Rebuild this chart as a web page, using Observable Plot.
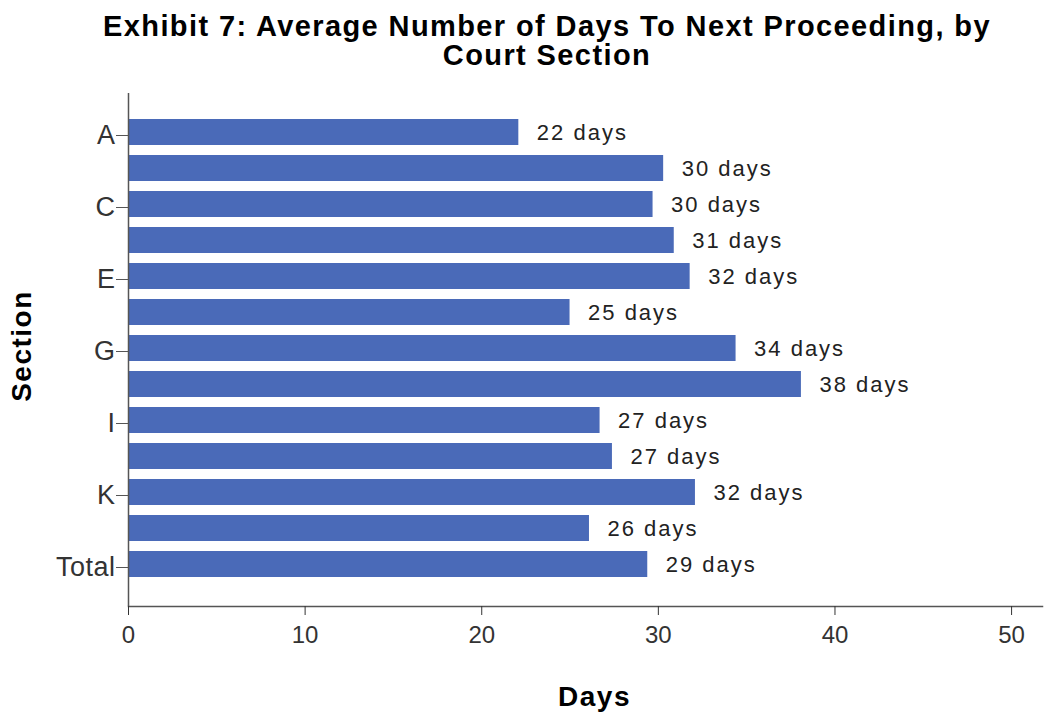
<!DOCTYPE html>
<html>
<head>
<meta charset="utf-8">
<script src="https://cdn.jsdelivr.net/npm/d3@7"></script>
<script src="https://cdn.jsdelivr.net/npm/@observablehq/plot@0.6"></script>
<style>
  html, body { margin: 0; padding: 0; background: #fff; }
  body { width: 1044px; height: 715px; overflow: hidden; font-family: "Liberation Sans", Arial, sans-serif; }
  #title { position: relative; height: 80px; width: 1044px; }
  #title div { position: absolute; left: 0; width: 1094px; text-align: center; font-weight: bold; font-size: 29px; letter-spacing: 1.4px; color: #000; line-height: 30px; }
  #chart svg { display: block; }
  #chart g[aria-label="y-axis tick label"] text { letter-spacing: 0.5px; }
</style>
</head>
<body>
<div id="title">
  <div style="top: 11px;">Exhibit 7: Average Number of Days To Next Proceeding, by</div>
  <div style="top: 40px;">Court Section</div>
</div>
<div id="chart"></div>
<script>
const sections = ["A", "B", "C", "D", "E", "F", "G", "H", "I", "J", "K", "L", "Total"];
const days = [22.1, 30.3, 29.7, 30.9, 31.8, 25.0, 34.4, 38.1, 26.7, 27.4, 32.1, 26.1, 29.4];
const labelledSections = ["A", "C", "E", "G", "I", "K", "Total"];
const xTicks = [0, 10, 20, 30, 40, 50];

const data = sections.map((s, i) => ({section: s, value: days[i]}));

const chart = Plot.plot({
  width: 1044,
  height: 635,
  marginTop: 13,
  marginBottom: 109,
  marginLeft: 128,
  marginRight: 2,
  style: {fontFamily: "'Liberation Sans', Arial, sans-serif", background: "#fff", color: "#222"},
  x: {domain: [0, 51.75]},
  y: {domain: sections, paddingInner: 0.28, paddingOuter: 0.7, align: 0.47},
  marks: [
    Plot.barX(data, {x: "value", y: "section", fill: "#4A6AB8"}),
    Plot.text(data, {
      x: "value", y: "section",
      text: d => `${Math.round(d.value)} days`,
      textAnchor: "start", dx: 18, fontSize: 22, fill: "#222"
    }),
    Plot.ruleX([0], {stroke: "#555", strokeWidth: 1.5}),
    Plot.frame({anchor: "bottom", stroke: "#555", strokeWidth: 1.5}),
    Plot.axisX({ticks: xTicks, tickSize: 9, tickPadding: 10, fontSize: 24, label: null, stroke: "#333", fill: "#333"}),
    Plot.axisY({ticks: labelledSections, tickSize: 12, tickPadding: 1, fontSize: 27, label: null, stroke: "#555", fill: "#333", dy: 3}),
    Plot.text(["Days"], {text: d => d, frameAnchor: "bottom", lineAnchor: "middle", textAnchor: "middle", dy: 91, dx: 9, fontSize: 28, fontWeight: "bold", fill: "#000"}),
    Plot.text(["Section"], {text: d => d, frameAnchor: "left", textAnchor: "middle", lineAnchor: "middle", dx: -106, dy: -4, rotate: -90, fontSize: 28, fontWeight: "bold", fill: "#000"})
  ]
});
document.getElementById("chart").appendChild(chart);

// spacing tweaks to match the reference's text rendering
d3.select(chart).selectAll("text")
  .filter(function() { return / days$/.test(this.textContent); })
  .style("letter-spacing", "2px");
d3.select(chart).selectAll("text")
  .filter(function() { return this.textContent === "Days" || this.textContent === "Section"; })
  .style("letter-spacing", "1.5px");
</script>
</body>
</html>
